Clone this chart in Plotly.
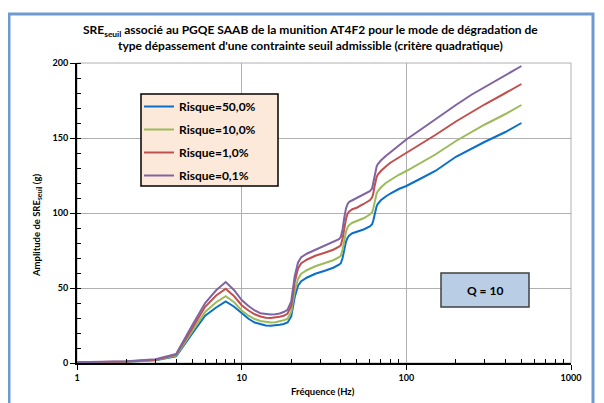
import plotly.graph_objects as go

freq = [1, 2, 3, 4, 5, 6, 7, 8, 9, 10, 11, 12, 13, 14, 15, 16, 17, 18, 19, 20, 21, 22, 23, 25, 28,
        32, 36, 39, 40, 41, 42, 43, 44, 45, 47, 50, 55, 60, 62, 63, 64, 65, 66, 67, 68, 70, 75, 80,
        90, 100, 120, 150, 200, 250, 300, 400, 500]

risque_50 = [0.3, 0.8, 1.8, 4.5, 19.5, 31.5, 37, 41, 37.5, 33, 29.5, 27, 25.8, 25, 24.8, 25, 25.5,
             26, 27, 31, 44, 51.5, 54.5, 57, 59.5, 61.5, 63.5, 65.5, 66.5, 70, 76, 81, 83.5, 85, 86.5,
             87.5, 89, 91, 92.5, 95, 98.5, 102, 104.5, 106, 107, 108.5, 111, 113, 116, 118, 122.5,
             128, 137.5, 143, 147.5, 154, 160]
risque_10 = [0.3, 0.9, 2, 5, 21, 34, 40.5, 44.5, 40.5, 35, 31.5, 29.3, 28, 27.3, 27, 27.2, 27.8,
             28.5, 29.5, 34, 48, 56, 59.5, 62, 64.5, 66.5, 68.5, 70.5, 71.5, 75.5, 82, 87.5, 90.5,
             92, 93.5, 94.5, 96.5, 99, 100.5, 103, 107, 110.5, 113, 114.5, 115.5, 117, 120, 122,
             125.5, 128, 133, 139, 148, 154, 159, 166, 172]
risque_1 = [0.4, 1, 2.2, 5.5, 23, 37.5, 45, 49.5, 44.5, 38.5, 35, 32.5, 31, 30.2, 30, 30.2, 30.8,
            31.5, 33, 38, 54, 63, 66.5, 69, 71.5, 73.5, 75.5, 77.5, 78.5, 83, 90, 96, 99.5, 101,
            102.5, 103.5, 106, 108.5, 110.5, 113, 117.5, 121.5, 124, 125.5, 126.5, 128, 131, 133.5,
            137, 140, 145.5, 152, 161, 167.5, 172.5, 180, 186]
risque_01 = [0.5, 1.2, 2.5, 6, 25, 40, 48.5, 54, 48.5, 42, 38, 35, 33.2, 32.5, 32.3, 32.5, 33,
             34, 35.5, 41, 58, 67, 70.5, 73, 75.5, 78, 80.5, 82.5, 84, 89, 97, 103, 106, 107.5,
             108.5, 110, 112, 114.5, 116.5, 120, 124.5, 128.5, 131, 132.5, 133.5, 135, 138, 140.5,
             145, 149, 155, 162.5, 172, 179, 184, 191.5, 198]

series_names = ["Risque=50,0%", "Risque=10,0%", "Risque=1,0%", "Risque=0,1%"]
series_values = [risque_50, risque_10, risque_1, risque_01]
series_colors = ["#0B6FC9", "#9BBB59", "#C0504D", "#8064A2"]

x_ticks = [1, 10, 100, 1000]
x_minor = [m * d for d in (1, 10, 100) for m in range(2, 10)]
y_ticks = [0, 50, 100, 150, 200]

FONT = "Lato"
OFF = 8                      # page margin of the html body
W, H = 604 - OFF, 403 - OFF
L, R, T, B = 77 - OFF, 571 - OFF, 63 - OFF, 363 - OFF


def px(x):
    """page x pixel -> paper coordinate"""
    return (x - OFF - L) / (R - L)


def py(y):
    """page y pixel -> paper coordinate"""
    return (B - (y - OFF)) / (B - T)


fig = go.Figure()
for i, (name, vals, col) in enumerate(zip(series_names, series_values, series_colors)):
    fig.add_trace(go.Scatter(x=freq, y=vals, mode="lines", name=name,
                             line=dict(color=col, width=2), legendgroup=f"g{i}"))

fig.update_layout(
    width=W, height=H,
    margin=dict(l=L, r=W - R, t=T, b=H - B),
    paper_bgcolor="white", plot_bgcolor="white",
    showlegend=True,
    legend=dict(x=px(139), y=py(92), xanchor="left", yanchor="top",
                bgcolor="rgba(0,0,0,0)", borderwidth=0, tracegroupgap=4,
                font=dict(family=FONT, size=12, color="black", weight="bold"),
                itemwidth=30),
    xaxis=dict(type="log", range=[0, 3], tickvals=x_ticks, ticktext=[str(v) for v in x_ticks],
               showgrid=True, gridcolor="#B0B0B0", gridwidth=1,
               showline=True, linecolor="black", linewidth=2,
               ticks="outside", ticklen=5, tickcolor="black", tickwidth=1,
               tickfont=dict(family=FONT, size=9, color="black", weight="bold"),
               minor=dict(tickvals=x_minor, ticks="inside", ticklen=4, tickcolor="black",
                          showgrid=False),
               zeroline=False),
    yaxis=dict(range=[0, 200], tickvals=y_ticks,
               showgrid=True, gridcolor="#B0B0B0", gridwidth=1,
               showline=True, linecolor="black", linewidth=2,
               ticks="outside", ticklen=5, tickcolor="black", tickwidth=1,
               tickfont=dict(family=FONT, size=9, color="black", weight="bold"),
               minor=dict(dtick=10, ticks="inside", ticklen=4, tickcolor="black",
                          showgrid=False),
               zeroline=False),
    shapes=[
        dict(type="rect", xref="paper", yref="paper", x0=0, x1=1, y0=0, y1=1,
             line=dict(color="#B0B0B0", width=1), layer="below"),
        dict(type="rect", xref="paper", yref="paper", x0=px(9), x1=px(593), y0=py(412), y1=py(14),
             line=dict(color="#6F9AD0", width=3)),
        dict(type="rect", xref="paper", yref="paper", x0=px(141), x1=px(278), y0=py(186), y1=py(94),
             fillcolor="#FDE9D9", line=dict(color="black", width=1.5), layer="above"),
        dict(type="rect", xref="paper", yref="paper", x0=px(441), x1=px(529), y0=py(307), y1=py(273),
             fillcolor="#B9CDE5", line=dict(color="#404040", width=1.5)),
    ],
    annotations=[
        dict(xref="paper", yref="paper", x=px(310), y=py(37), xanchor="center", yanchor="middle",
             showarrow=False, align="center",
             text="<b>SRE<sub>seuil</sub> associé au PGQE SAAB de la munition AT4F2 pour le mode de dégradation de"
                  "<br>type dépassement d'une contrainte seuil admissible (critère quadratique)</b>",
             font=dict(family=FONT, size=12, color="black")),
        dict(xref="paper", yref="paper", x=px(323), y=py(391), xanchor="center", yanchor="middle",
             showarrow=False, text="<b>Fréquence (Hz)</b>",
             font=dict(family=FONT, size=9.5, color="black")),
        dict(xref="paper", yref="paper", x=px(37), y=py(226), xanchor="center", yanchor="middle",
             showarrow=False, textangle=-90, text="<b>Amplitude de SRE<sub>seuil</sub> (g)</b>",
             font=dict(family=FONT, size=9.5, color="black")),
        dict(xref="paper", yref="paper", x=px(485), y=py(290), xanchor="center", yanchor="middle",
             showarrow=False, text="<b>Q = 10</b>",
             font=dict(family=FONT, size=12, color="black")),
    ],
)

fig.write_html("out.html")
